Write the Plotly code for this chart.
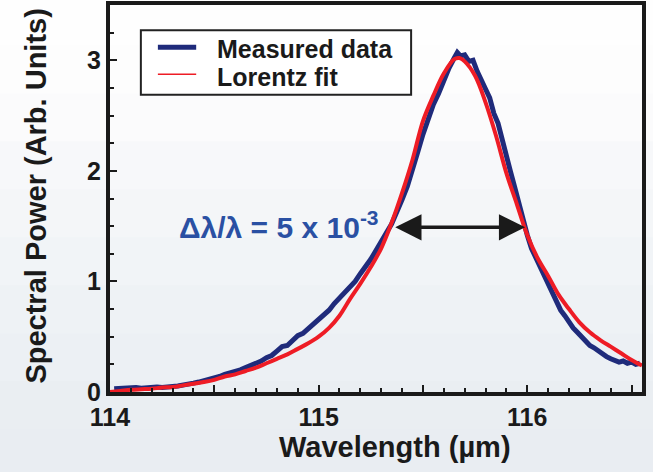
import plotly.graph_objects as go

# ---- data ----
meas_x = [114.02, 114.05, 114.075, 114.10, 114.125, 114.15, 114.175, 114.20, 114.225, 114.25,
          114.275, 114.30, 114.325, 114.35, 114.375, 114.40, 114.425, 114.45, 114.475, 114.50,
          114.525, 114.55, 114.575, 114.60, 114.625, 114.65, 114.675, 114.70, 114.725, 114.75,
          114.775, 114.80, 114.825, 114.85, 114.875, 114.90, 114.925, 114.95, 114.975, 115.00,
          115.025, 115.05, 115.075, 115.10, 115.125, 115.15, 115.175, 115.20, 115.225, 115.25,
          115.275, 115.30, 115.325, 115.35, 115.375, 115.40, 115.425, 115.45, 115.475, 115.50,
          115.525, 115.55, 115.575, 115.60, 115.625, 115.65, 115.665, 115.68, 115.70, 115.72,
          115.74, 115.76, 115.78, 115.80, 115.82, 115.84, 115.86, 115.88, 115.90, 115.92,
          115.94, 115.96, 115.98, 116.00, 116.02, 116.04, 116.06, 116.08, 116.10, 116.12,
          116.14, 116.16, 116.18, 116.20, 116.22, 116.24, 116.26, 116.28, 116.30, 116.32,
          116.34, 116.36, 116.38, 116.40, 116.42, 116.44, 116.46, 116.48, 116.50, 116.52, 116.54]
meas_y = [0.03, 0.035, 0.03, 0.035, 0.04, 0.035, 0.04, 0.04, 0.045, 0.04,
          0.05, 0.05, 0.055, 0.06, 0.07, 0.08, 0.09, 0.10, 0.11, 0.13,
          0.14, 0.16, 0.17, 0.19, 0.20, 0.22, 0.24, 0.25, 0.28, 0.31,
          0.33, 0.37, 0.41, 0.42, 0.46, 0.51, 0.53, 0.57, 0.61, 0.66,
          0.70, 0.74, 0.80, 0.85, 0.91, 0.96, 1.00, 1.07, 1.13, 1.20,
          1.28, 1.35, 1.44, 1.52, 1.62, 1.74, 1.86, 2.00, 2.17, 2.33,
          2.48, 2.60, 2.70, 2.82, 2.93, 3.02, 3.07, 3.04, 3.05, 2.99,
          3.00, 2.90, 2.83, 2.74, 2.66, 2.52, 2.43, 2.27, 2.14, 1.99,
          1.85, 1.70, 1.55, 1.42, 1.30, 1.22, 1.13, 1.05, 0.97, 0.88,
          0.82, 0.74, 0.69, 0.63, 0.58, 0.54, 0.50, 0.46, 0.42, 0.40,
          0.37, 0.35, 0.32, 0.30, 0.29, 0.27, 0.28, 0.26, 0.27, 0.25, 0.26]

fit_x = [114.00, 114.05, 114.10, 114.15, 114.20, 114.25, 114.30, 114.35, 114.40, 114.45,
         114.50, 114.55, 114.60, 114.65, 114.70, 114.75, 114.80, 114.85, 114.90, 114.95,
         115.00, 115.05, 115.10, 115.15, 115.20, 115.25, 115.30, 115.35, 115.40, 115.45,
         115.50, 115.55, 115.60, 115.65, 115.675, 115.70, 115.75, 115.80, 115.85, 115.90,
         115.95, 116.00, 116.05, 116.10, 116.15, 116.20, 116.25, 116.30, 116.35, 116.40,
         116.45, 116.50, 116.55]
fit_y = [0.00, 0.01, 0.02, 0.025, 0.03, 0.04, 0.045, 0.06, 0.075, 0.09,
         0.11, 0.14, 0.16, 0.19, 0.22, 0.26, 0.30, 0.34, 0.39, 0.44,
         0.50, 0.58, 0.69, 0.84, 0.98, 1.13, 1.30, 1.53, 1.80, 2.10,
         2.45, 2.68, 2.88, 3.01, 3.02, 2.99, 2.86, 2.62, 2.32, 1.98,
         1.70, 1.42, 1.21, 1.05, 0.88, 0.75, 0.63, 0.54, 0.47, 0.41,
         0.35, 0.29, 0.24]

y_tickvals = [0, 1, 2, 3]
y_ticktext = ["0", "1", "2", "3"]

legend_names = ["Measured data", "Lorentz fit"]

fwhm_left = 115.36
fwhm_right = 115.99
half_max = 1.49
label_text = "Δλ/λ = 5 x 10<sup>-3</sup>"

BLUE = "#1f2b7b"
RED = "#ee1c25"
INK = "#1a1a1a"
FONT = "Arial, Liberation Sans, Helvetica, sans-serif"

fig = go.Figure()
fig.add_trace(go.Scatter(x=meas_x, y=meas_y, mode="lines", name=legend_names[0], showlegend=False,
                         line=dict(color=BLUE, width=5)))
fig.add_trace(go.Scatter(x=fit_x, y=fit_y, mode="lines", name=legend_names[1], showlegend=False,
                         line=dict(color=RED, width=4, shape="spline")))

# background gradient bands
bands = ["#fefefe", "#fdfdfd", "#fbfbfc", "#f7f8fa", "#f4f6f8", "#f1f4f7", "#eef2f5", "#ecf0f4", "#eaeef2", "#e9edf2"]
n = len(bands)
shapes = []
y_lo, y_hi = -0.22, 1.02
for i, c in enumerate(bands):
    top = y_hi - (y_hi - y_lo) * i / n
    bot = y_hi - (y_hi - y_lo) * (i + 1) / n
    shapes.append(dict(type="rect", xref="paper", yref="paper", x0=-0.25, x1=1.05,
                       y0=bot - 0.002, y1=top, fillcolor=c, line=dict(width=0), layer="below"))

# legend box drawn by hand (thin red sample as in the original)
shapes.append(dict(type="rect", xref="paper", yref="paper", x0=0.058, x1=0.566, y0=0.768, y1=0.935,
                   fillcolor="white", line=dict(color="#222222", width=2), layer="above"))
shapes.append(dict(type="line", xref="paper", yref="paper", x0=0.090, x1=0.162, y0=0.891, y1=0.891,
                   line=dict(color=BLUE, width=5)))
shapes.append(dict(type="line", xref="paper", yref="paper", x0=0.090, x1=0.162, y0=0.821, y1=0.821,
                   line=dict(color=RED, width=1.5)))

fig.update_layout(
    width=653, height=472,
    margin=dict(l=110, r=11, t=5, b=80, autoexpand=False),
    paper_bgcolor="#f3f5f8",
    plot_bgcolor="rgba(0,0,0,0)",
    shapes=shapes,
    font=dict(family=FONT, size=25, color=INK, weight="bold"),
    showlegend=False,
    xaxis=dict(range=[114, 116.55], showgrid=False, zeroline=False,
               showline=True, linewidth=4, linecolor=INK, mirror=True,
               ticks="inside", ticklen=7, tickwidth=2, tickcolor=INK,
               tickmode="linear", tick0=114, dtick=0.5, ticklabelstep=2,
               tickfont=dict(family=FONT, size=25, color=INK, weight="bold"),
               minor=dict(dtick=0.1, tick0=114, ticks="inside", ticklen=4, tickwidth=2,
                          tickcolor=INK, showgrid=False)),
    yaxis=dict(range=[0, 3.5], showgrid=False, zeroline=False,
               showline=True, linewidth=4, linecolor=INK, mirror=True,
               ticks="inside", ticklen=7, tickwidth=2, tickcolor=INK,
               tickvals=y_tickvals, ticktext=y_ticktext,
               tickfont=dict(family=FONT, size=25, color=INK, weight="bold"),
               minor=dict(dtick=0.25, tick0=0, ticks="inside", ticklen=4, tickwidth=2,
                          tickcolor=INK, showgrid=False)),
)

# legend texts
fig.add_annotation(xref="paper", yref="paper", x=0.197, y=0.887, xanchor="left", yanchor="middle",
                   text=legend_names[0], showarrow=False, height=24,
                   font=dict(family=FONT, size=25, color=INK, weight="bold"))
fig.add_annotation(xref="paper", yref="paper", x=0.197, y=0.815, xanchor="left", yanchor="middle",
                   text=legend_names[1], showarrow=False, height=24,
                   font=dict(family=FONT, size=25, color=INK, weight="bold"))

# axis titles
fig.add_annotation(xref="paper", yref="paper", x=0.536, y=-0.142, xanchor="center", yanchor="middle",
                   text="Wavelength (µm)", showarrow=False,
                   font=dict(family=FONT, size=29, color=INK, weight="bold"))
fig.add_annotation(xref="paper", yref="paper", x=-0.139, y=0.505, xanchor="center", yanchor="middle",
                   text="Spectral Power (Arb. Units)", showarrow=False, textangle=-90,
                   font=dict(family=FONT, size=29, color=INK, weight="bold"))

# FWHM arrow and label
fig.add_annotation(x=fwhm_right, y=half_max, ax=fwhm_left, ay=half_max, axref="x", ayref="y",
                   xref="x", yref="y", text="", showarrow=True, arrowside="end+start",
                   arrowhead=2, arrowsize=1.5, arrowwidth=3.5, arrowcolor=INK)
fig.add_annotation(x=115.30, y=half_max + 0.02, xanchor="right", yanchor="middle",
                   text=label_text, showarrow=False,
                   font=dict(family=FONT, size=30, color="#2a50a3", weight="bold"))

fig.write_html("out.html", config={"displayModeBar": False},
               post_script="document.body.style.margin='0px';")
